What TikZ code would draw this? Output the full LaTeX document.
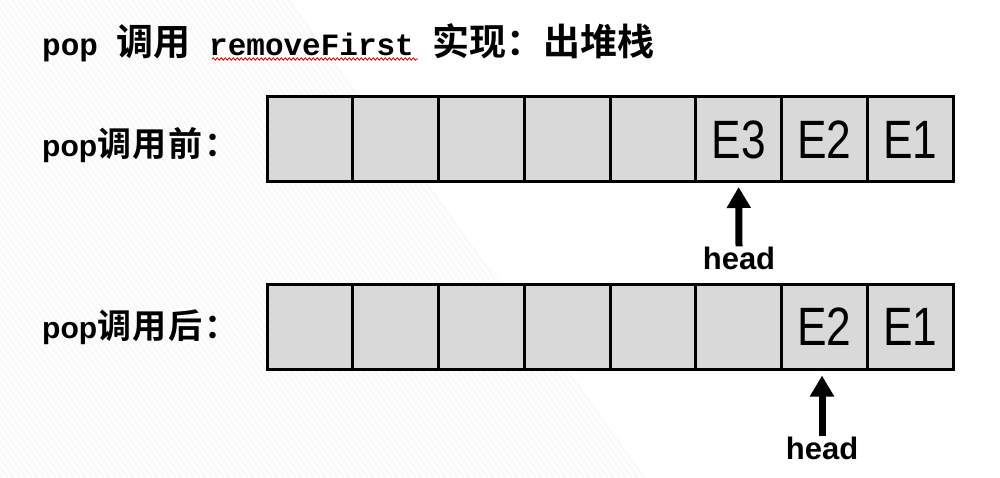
\documentclass[tikz,border=0pt]{standalone}
\usepackage{fontspec}
\setmainfont{Liberation Sans}
\newfontfamily\cjk{Noto Sans CJK SC}[BoldFont=* Bold]
\newfontfamily\mono{Liberation Mono}
\usetikzlibrary{arrows.meta,decorations.pathmorphing}
\tikzset{
  cell/.style={draw=black, line width=3pt, fill=cellgray, minimum width=85.75pt, minimum height=85pt, inner sep=0pt, outer sep=0pt,
     font=\fontsize{54}{60}\selectfont},
  stripe/.style={draw=gray!5, line width=2.4pt},
  headlbl/.style={inner sep=0pt, font=\bfseries\fontsize{31}{36}\selectfont},
  ptr/.style={line width=7pt, -{Triangle[width=23pt,length=21pt]}},
  rowlbl/.style={inner sep=0pt, anchor=west, font=\bfseries\fontsize{30}{36}\selectfont},
  titlelbl/.style={inner sep=0pt, anchor=west},
  wavy/.style={draw=red!85!black, line width=0.8pt, decorate, decoration={snake, amplitude=1.2pt, segment length=4pt}}
}
\definecolor{cellgray}{HTML}{D9D9D9}
\begin{document}
\begin{tikzpicture}[x=1pt, y=-1pt]
\fill[white] (0,0) rectangle (1000,478);
\useasboundingbox (0,0) rectangle (1000,478);
% background stripes
\begin{scope}
  \clip (0,0) -- (290,0) -- (650,478) -- (0,478) -- cycle;
  \foreach \k in {-60,...,50} \draw[stripe] ({\k*6},0) -- ({\k*6+0.72*478},478);
\end{scope}
% title
\node[titlelbl] (title) at (42,43) {\bfseries{\mono\fontsize{31}{36}\selectfont pop }{\cjk\fontsize{37}{40}\selectfont 调用}{\mono\fontsize{31}{36}\selectfont{} removeFirst }{\cjk\fontsize{37}{40}\selectfont 实现：出堆栈}};
\coordinate (wl) at (212,59);
\coordinate (wr) at (418,59);
\draw[wavy] (wl) -- (wr);
% row labels
\node[rowlbl] (lbefore) at (42,145) {pop{\cjk\fontsize{34}{38}\selectfont\addfontfeature{LetterSpace=5} 调用前：}};
\node[rowlbl] (lafter) at (42,327) {pop{\cjk\fontsize{34}{38}\selectfont\addfontfeature{LetterSpace=5} 调用后：}};
% top row
\foreach \i/\t in {1/{},2/{},3/{},4/{},5/{},6/E3,7/E2,8/E1}
  \node[cell] (t\i) at ({267+85.75*(\i-0.5)},139.5) {\scalebox{0.82}[1]{\t}};
% bottom row
\foreach \i/\t in {1/{},2/{},3/{},4/{},5/{},6/{},7/E2,8/E1}
  \node[cell] (b\i) at ({267+85.75*(\i-0.5)},327) {\scalebox{0.82}[1]{\t}};
% head pointers
\node[headlbl] (h1) at (739,258) {head};
\node[headlbl] (h2) at (822,448) {head};
\draw[ptr] (h1.north) -- ([yshift=-5pt]t6.south);
\draw[ptr] (h2.north) -- ([yshift=-6pt]b7.south -| h2.north);
\end{tikzpicture}
\end{document}
